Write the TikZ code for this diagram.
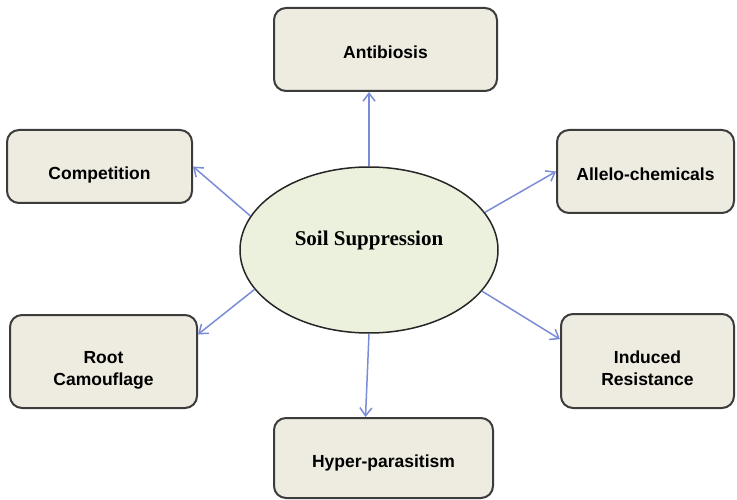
\documentclass[tikz,border=0pt]{standalone}
\usepackage{fontspec}
\setmainfont{Liberation Sans}
\newfontfamily\soilfont{Liberation Serif}
\usepackage{tikz}
\usetikzlibrary{shapes.geometric}
\usetikzlibrary{arrows.meta}
\usetikzlibrary{calc}
\definecolor{boxfill}{HTML}{EEEBE0}
\definecolor{boxline}{HTML}{3C3C3C}
\definecolor{soilfill}{HTML}{EBF1DD}
\definecolor{linkblue}{HTML}{7A8CD8}
\tikzset{mech/.style={draw=boxline,fill=boxfill,line width=2pt,rounded corners=12pt,align=center,font=\bfseries\fontsize{17.5}{22}\selectfont},
textdrop/.style={execute at begin node={\rule{0pt}{#1}}},
link/.style={draw=linkblue,line width=1.5pt,-{Straight Barb[length=8pt,width=12pt]}}}
\newcommand{\twolines}[2]{\begin{tabular}{@{}c@{}}\rule{0pt}{33pt}#1\\#2\end{tabular}}

\begin{document}
\begin{tikzpicture}[x=1pt,y=1pt]
\useasboundingbox (0,0) rectangle (737,499);
\node (soil) at (369,249) [ellipse,draw=black!85,fill=soilfill,line width=1.5pt,minimum width=258pt,minimum height=166pt,font=\soilfont\bfseries\fontsize{21}{25}\selectfont,execute at end node={\rule[-24pt]{0pt}{24pt}}] {Soil Suppression};
\node (anti) at (385.5,449.5) [mech,textdrop=19pt,minimum width=223pt,minimum height=83pt] {Antibiosis};
\node (comp) at (99.5,332.5) [mech,textdrop=29pt,minimum width=185pt,minimum height=73pt] {Competition};
\node (allelo) at (645.5,327.5) [mech,textdrop=19pt,minimum width=177pt,minimum height=83pt] {Allelo-chemicals};
\node (root) at (103.5,137.5) [mech,minimum width=187pt,minimum height=93pt] {\twolines{Root}{Camouflage}};
\node (ind) at (647.5,138) [mech,minimum width=173pt,minimum height=94pt] {\twolines{Induced}{Resistance}};
\node (hyper) at (383.5,41) [mech,textdrop=22.5pt,minimum width=219pt,minimum height=80pt] {Hyper-parasitism};
\draw[link] (soil.north) -- (soil.north |- anti.south);
\draw[link] (soil.164) -- (comp.east);
\draw[link] (soil.18) -- (allelo.west);
\draw[link] (soil.199) -- (root.16);
\draw[link] (soil.340) -- (ind.166);
\draw[link] (soil.south) -- ($(hyper.north)+(-18,0)$);
\end{tikzpicture}
\end{document}
